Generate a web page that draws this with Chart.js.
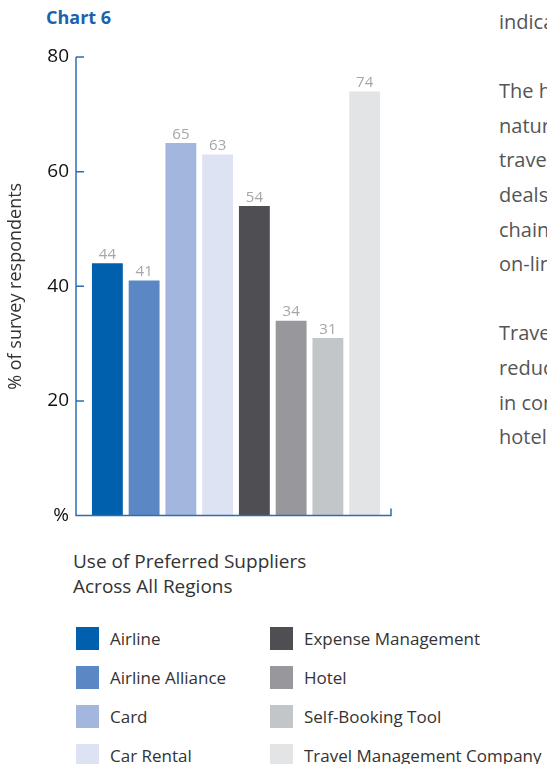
<!DOCTYPE html>
<html>
<head>
<meta charset="utf-8">
<script src="https://cdn.jsdelivr.net/npm/chart.js@4/dist/chart.umd.min.js"></script>
<style>
  html, body { margin: 0; padding: 0; background: #fff; }
  body { width: 547px; height: 764px; position: relative; overflow: hidden; font-family: "Open Sans", sans-serif; }
  #title { position: absolute; left: 46px; top: 5px; font-size: 18px; font-weight: bold; color: #1b62ad; }
  #box { position: absolute; left: 0; top: 0; width: 400px; height: 547px; }
  #caption { position: absolute; left: 73px; top: 549px; font-size: 19px; line-height: 25px; color: #333; }
  #legend { position: absolute; left: 76px; top: 627px; }
  .item { position: absolute; height: 23px; white-space: nowrap; font-size: 17px; line-height: 23px; color: #333; }
  .item span.sw { position: absolute; left: 0; top: 0; width: 23px; height: 23px; }
  .item span.tx { position: absolute; left: 34px; top: 0; }
  #body { position: absolute; left: 499px; top: 5px; font-size: 20px; line-height: 34.6px; color: #555; white-space: nowrap; }
</style>
</head>
<body>
<div id="title">Chart 6</div>
<div id="box"><canvas id="chart"></canvas></div>
<div id="caption">Use of Preferred Suppliers<br>Across All Regions</div>
<div id="legend"></div>
<div id="body">indicated<br><br>The high<br>nature<br>travel<br>deals<br>chains<br>on-line<br><br>Travel<br>reduce<br>in contrast<br>hotel</div>
<script>
const suppliers = ['Airline', 'Airline Alliance', 'Card', 'Car Rental',
  'Expense Management', 'Hotel', 'Self-Booking Tool', 'Travel Management Company'];
const shares = [44, 41, 65, 63, 54, 34, 31, 74];
const colours = ['#0060ae', '#5b87c5', '#a3b7de', '#dde3f3',
  '#4f4e53', '#98979b', '#c3c6c9', '#e3e4e6'];
const yTicks = [0, 20, 40, 60, 80];

// legend: two columns of four
const legend = document.getElementById('legend');
suppliers.forEach((name, i) => {
  const el = document.createElement('div');
  el.className = 'item';
  el.style.left = (i < 4 ? 0 : 194) + 'px';
  el.style.top = ((i % 4) * 39) + 'px';
  el.innerHTML = '<span class="sw" style="background:' + colours[i] + '"></span><span class="tx">' + name + '</span>';
  legend.appendChild(el);
});

const AXIS = '#2f6db3';

// axis lines drawn by hand: left spine with inward ticks, base line with end tick
const axisLines = {
  id: 'axisLines',
  afterDraw(chart) {
    const { ctx, chartArea: a, scales: { y } } = chart;
    const x0 = a.left - 13, x1 = a.right + 8;
    ctx.save();
    ctx.strokeStyle = AXIS;
    ctx.lineWidth = 1.5;
    ctx.beginPath();
    ctx.moveTo(x0, y.getPixelForValue(80));
    ctx.lineTo(x0, a.bottom);
    ctx.lineTo(x1, a.bottom);
    ctx.lineTo(x1, a.bottom - 7);
    yTicks.forEach(v => {
      if (v === 0) return;
      const py = y.getPixelForValue(v);
      ctx.moveTo(x0, py);
      ctx.lineTo(x0 + 8, py);
    });
    ctx.stroke();
    ctx.restore();
  }
};

// value labels above each bar
const barValues = {
  id: 'barValues',
  afterDatasetsDraw(chart) {
    const { ctx } = chart;
    const meta = chart.getDatasetMeta(0);
    ctx.save();
    ctx.font = '15px "Open Sans", sans-serif';
    ctx.fillStyle = '#a6a6a6';
    ctx.textAlign = 'center';
    ctx.textBaseline = 'bottom';
    meta.data.forEach((bar, i) => {
      ctx.fillText(String(shares[i]), bar.x, bar.y - 1);
    });
    ctx.restore();
  }
};

new Chart(document.getElementById('chart'), {
  type: 'bar',
  data: {
    labels: suppliers,
    datasets: [{
      data: shares,
      backgroundColor: colours,
      categoryPercentage: 1,
      barPercentage: 0.84
    }]
  },
  options: {
    responsive: true,
    maintainAspectRatio: false,
    animation: false,
    layout: { padding: { top: 57, right: 17, bottom: 15, left: 0 } },
    plugins: { legend: { display: false }, tooltip: { enabled: false } },
    scales: {
      x: { display: false },
      y: {
        min: 0,
        max: 80,
        afterBuildTicks(scale) { scale.ticks = yTicks.map(v => ({ value: v })); },
        afterFit(scale) { scale.width = 89; },
        grid: { display: false, drawTicks: false },
        border: { display: false },
        ticks: {
          padding: 20,
          color: '#111',
          font: { family: '"Open Sans", sans-serif', size: 19 },
          callback: v => (v === 0 ? '%' : String(v))
        },
        title: {
          display: true,
          text: '% of survey respondents',
          color: '#333',
          padding: { top: 5, bottom: 0 },
          font: { family: '"Open Sans", sans-serif', size: 18 }
        }
      }
    }
  },
  plugins: [axisLines, barValues]
});
</script>
</body>
</html>
